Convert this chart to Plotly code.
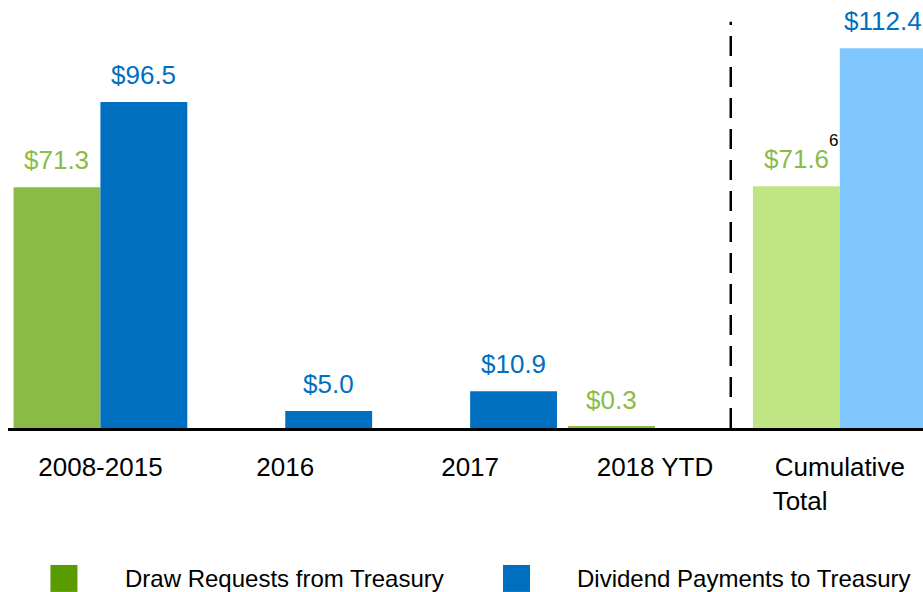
import plotly.graph_objects as go

categories = ['2008-2015', '2016', '2017', '2018 YTD', 'Cumulative Total']
tick_labels = ['2008-2015', '2016', '2017', '2018 YTD',
               'Cumulative<br>Total' + '\u00a0' * 11]
draws = [71.3, 0, 0, 0.3, 71.6]
dividends = [96.5, 5.0, 10.9, 0, 112.4]
draw_labels = ['$71.3', None, None, '$0.3', '$71.6']
dividend_labels = ['$96.5', '$5.0', '$10.9', None, '$112.4']

GREEN = '#8bbb47'
GREEN_LIGHT = '#c0e684'
GREEN_LEGEND = '#5a9c00'
BLUE = '#006fc0'
BLUE_LIGHT = '#80c7ff'
FONT = 'Liberation Sans, Arial, sans-serif'

# last category (cumulative) gets the lighter shades
draw_colors = [GREEN] * 4 + [GREEN_LIGHT]
div_colors = [BLUE] * 4 + [BLUE_LIGHT]

fig = go.Figure()
fig.add_trace(go.Bar(x=categories, y=draws, marker=dict(color=draw_colors, line=dict(width=0)),
                     name='Draw Requests from Treasury', showlegend=False, hoverinfo='skip'))
fig.add_trace(go.Bar(x=categories, y=dividends, marker=dict(color=div_colors, line=dict(width=0)),
                     name='Dividend Payments to Treasury', showlegend=False, hoverinfo='skip'))

# value labels above bars (x given as category index, numeric-looking names confuse annotations)
for i, (val, lab) in enumerate(zip(draws, draw_labels)):
    if lab:
        fig.add_annotation(x=i, y=val, text=lab, showarrow=False, xshift=-43.5, yshift=10,
                           yanchor='bottom', font=dict(family=FONT, size=26, color=GREEN))
for i, (val, lab) in enumerate(zip(dividends, dividend_labels)):
    if lab:
        fig.add_annotation(x=i, y=val, text=lab, showarrow=False, xshift=43.5, yshift=10,
                           yanchor='bottom', font=dict(family=FONT, size=26, color=BLUE))

# footnote marker
fig.add_annotation(x=4, y=draws[4], text='6', showarrow=False, xshift=-6, yshift=34,
                   yanchor='bottom', font=dict(family=FONT, size=17, color='black'))

# dashed separator before cumulative total
fig.add_shape(type='line', xref='x', yref='paper', x0=3.41, x1=3.41, y0=0, y1=0.949,
              line=dict(color='black', width=2.5, dash='20px,11px'))

# legend drawn by hand (big square swatches)
legend_items = [('Draw Requests from Treasury', GREEN_LEGEND, 0.0464),
                ('Dividend Payments to Treasury', BLUE, 0.541)]
for name, col, x0 in legend_items:
    fig.add_shape(type='rect', xref='paper', yref='paper', x0=x0, x1=x0 + 0.0295,
                  y0=-0.383, y1=-0.32, fillcolor=col, line=dict(width=0))
    fig.add_annotation(xref='paper', yref='paper', x=x0 + 0.079, y=-0.351, text=name,
                       showarrow=False, xanchor='left', yanchor='middle',
                       font=dict(family=FONT, size=24, color='black'))

fig.update_layout(
    width=923, height=592,
    margin=dict(l=7.5, r=0, t=0, b=164),
    plot_bgcolor='white', paper_bgcolor='white',
    barmode='group', bargap=0.06, bargroupgap=0,
    font=dict(family=FONT, size=24, color='black'),
    xaxis=dict(range=[-0.5, 4.45], tickvals=categories, ticktext=tick_labels,
               showline=True, linecolor='black', linewidth=3, ticks='',
               ticklabelstandoff=14, showgrid=False, tickfont=dict(size=26)),
    yaxis=dict(range=[0, 126.7], visible=False, showgrid=False, zeroline=False),
)

fig.write_html('out.html', config={'displayModeBar': False},
               post_script="document.body.style.margin='0';document.body.style.overflow='hidden';")
